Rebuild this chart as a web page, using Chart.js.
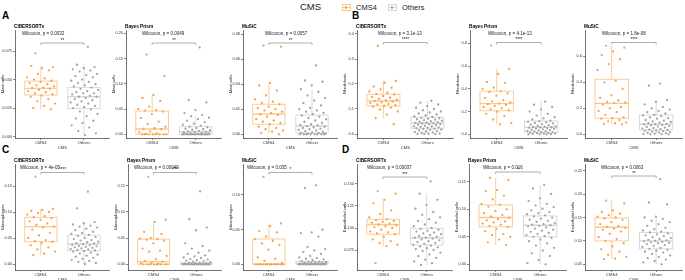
<!DOCTYPE html>
<html>
<head>
<meta charset="utf-8">
<script src="https://cdn.jsdelivr.net/npm/chart.js@4"></script>
<style>
body { margin: 0; background: #fff; }
#wrap { position: relative; width: 685px; height: 280px; overflow: hidden; font-family: 'Liberation Sans', Arial, sans-serif; }
canvas { position: absolute; }
.tag { position: absolute; font-weight: bold; font-size: 10px; line-height: 10px; color: #000; }
.lg { position: absolute; line-height: 10px; color: #222; white-space: nowrap; }
.key { position: absolute; top: 2px; width: 10px; height: 10px; }
.key .bx { position: absolute; left: 1px; top: 2px; width: 7px; height: 5px; border: 0.8px solid; }
.key .md { position: absolute; left: 1px; top: 5px; width: 8.6px; height: 0.9px; }
.key .dot { position: absolute; left: 4px; top: 4.2px; width: 2.4px; height: 2.4px; border-radius: 1.2px; }
</style>
</head>
<body>
<div id="wrap">
  <div class="tag" style="left:2px;top:11px">A</div>
  <div class="tag" style="left:352px;top:11px">B</div>
  <div class="tag" style="left:2px;top:145px">C</div>
  <div class="tag" style="left:342px;top:145px">D</div>
  <span class="lg" style="left:300px;top:2px;font-size:9.5px">CMS</span>
  <span class="key" style="left:341px"><span class="bx" style="border-color:#fbc78c"></span><span class="md" style="background:#fbc78c"></span><span class="dot" style="background:#f8a145"></span></span>
  <span class="lg" style="left:356px;top:2.5px;font-size:7.5px">CMS4</span>
  <span class="key" style="left:387px"><span class="bx" style="border-color:#d6d6d6"></span><span class="md" style="background:#d6d6d6"></span><span class="dot" style="background:#a3a3a3"></span></span>
  <span class="lg" style="left:402px;top:2.5px;font-size:7.5px">Others</span>
</div>
<script>
const categories = ['CMS4', 'Others'];

// A: mast cells
const mastCiberCMS4 = [0.073, 0.061, 0.060, 0.062, 0.058, 0.055, 0.052, 0.051, 0.050, 0.049, 0.048, 0.047, 0.046, 0.045, 0.044, 0.043, 0.0425, 0.042, 0.041, 0.040, 0.039, 0.038, 0.037, 0.036, 0.035, 0.033, 0.031, 0.029, 0.027, 0.025, 0.024];
const mastCiberOthers = [0.0787, 0.063, 0.061, 0.060, 0.059, 0.058, 0.057, 0.055, 0.054, 0.053, 0.052, 0.050, 0.049, 0.048, 0.047, 0.046, 0.045, 0.044, 0.043, 0.042, 0.041, 0.040, 0.039, 0.038, 0.038, 0.037, 0.036, 0.035, 0.035, 0.034, 0.033, 0.032, 0.031, 0.030, 0.029, 0.028, 0.027, 0.026, 0.025, 0.024, 0.022, 0.020, 0.018, 0.016, 0.014, 0.012, 0.010, 0.008, 0.005, 0.003, 0.0015];
const mastCiberBox = [[0.024, 0.0365, 0.0423, 0.0487, 0.062], [0.0015, 0.0248, 0.035, 0.0432, 0.0633]];
const mastCiberTicks = ['0.000', '0.025', '0.050', '0.075'];

const mastBayesCMS4 = [0.158, 0.115, 0.078, 0.072, 0.066, 0.055, 0.050, 0.048, 0.047, 0.045, 0.040, 0.032, 0.025, 0.020, 0.015, 0.012, 0.011, 0.010, 0.006, 0.004, 0.002, 0.001, 0, 0, 0, 0, 0, 0, 0, 0];
const mastBayesOthers = [0.172, 0.068, 0.063, 0.048, 0.042, 0.038, 0.036, 0.033, 0.030, 0.027, 0.024, 0.021, 0.019, 0.017, 0.015, 0.014, 0.012, 0.011, 0.010, 0.009, 0.008, 0.007, 0.006, 0.005, 0.005, 0.004, 0.003, 0.002, 0.002, 0.001, 0.001, 0, 0, 0, 0, 0, 0, 0, 0, 0, 0, 0, 0, 0, 0, 0, 0, 0, 0, 0];
const mastBayesBox = [[0, 0, 0.0105, 0.046, 0.078], [0, 0, 0.005, 0.015, 0.036]];
const mastBayesTicks = ['0.00', '0.05', '0.10', '0.15', '0.20'];

const mastMusicCMS4 = [0.071, 0.070, 0.041, 0.039, 0.035, 0.031, 0.028, 0.026, 0.025, 0.024, 0.022, 0.021, 0.020, 0.019, 0.018, 0.017, 0.016, 0.0155, 0.014, 0.012, 0.011, 0.010, 0.009, 0.008, 0.006, 0.005, 0.004, 0.003, 0.002, 0.001, 0];
const mastMusicOthers = [0.055, 0.043, 0.042, 0.039, 0.036, 0.034, 0.031, 0.029, 0.027, 0.025, 0.023, 0.021, 0.020, 0.019, 0.018, 0.017, 0.016, 0.015, 0.014, 0.013, 0.012, 0.011, 0.010, 0.009, 0.008, 0.0075, 0.007, 0.0065, 0.006, 0.0055, 0.005, 0.0045, 0.004, 0.0035, 0.003, 0.0025, 0.002, 0.0015, 0.001, 0.001, 0.0005, 0.0005, 0, 0, 0, 0, 0, 0, 0, 0];
const mastMusicBox = [[0, 0.008, 0.0162, 0.024, 0.041], [0, 0.001, 0.0066, 0.0154, 0.036]];
const mastMusicTicks = ['0.00', '0.02', '0.04', '0.06', '0.08'];

// B: fibroblasts
const fibroCiberCMS4 = [0.352, 0.212, 0.205, 0.19, 0.185, 0.178, 0.17, 0.165, 0.16, 0.158, 0.152, 0.148, 0.145, 0.14, 0.137, 0.134, 0.132, 0.13, 0.127, 0.124, 0.12, 0.118, 0.115, 0.113, 0.11, 0.105, 0.098, 0.09, 0.078, 0.063, 0.039];
const fibroCiberOthers = [0.133, 0.125, 0.118, 0.112, 0.105, 0.1, 0.095, 0.09, 0.086, 0.082, 0.078, 0.074, 0.07, 0.068, 0.065, 0.063, 0.061, 0.059, 0.057, 0.055, 0.053, 0.051, 0.049, 0.047, 0.046, 0.044, 0.043, 0.042, 0.04, 0.039, 0.037, 0.035, 0.033, 0.031, 0.03, 0.028, 0.026, 0.025, 0.023, 0.021, 0.02, 0.018, 0.016, 0.014, 0.012, 0.01, 0.008, 0.006, 0.004, 0.002, 0.001, 0, 0, 0];
const fibroCiberBox = [[0.063, 0.112, 0.132, 0.159, 0.212], [0, 0.023, 0.043, 0.067, 0.133]];
const fibroCiberTicks = ['0.0', '0.1', '0.2', '0.3', '0.4'];

const fibroBayesCMS4 = [0.78, 0.574, 0.53, 0.46, 0.453, 0.41, 0.40, 0.38, 0.37, 0.36, 0.34, 0.32, 0.30, 0.29, 0.28, 0.27, 0.265, 0.26, 0.25, 0.24, 0.23, 0.22, 0.21, 0.20, 0.18, 0.16, 0.13, 0.10, 0.088];
const fibroBayesOthers = [0.287, 0.26, 0.24, 0.22, 0.2, 0.18, 0.165, 0.15, 0.14, 0.13, 0.12, 0.115, 0.11, 0.105, 0.1, 0.095, 0.09, 0.085, 0.08, 0.075, 0.07, 0.067, 0.064, 0.062, 0.06, 0.057, 0.054, 0.05, 0.047, 0.044, 0.04, 0.037, 0.034, 0.03, 0.027, 0.024, 0.02, 0.018, 0.015, 0.012, 0.01, 0.008, 0.005, 0.003, 0.001, 0, 0, 0];
const fibroBayesBox = [[0.088, 0.207, 0.27, 0.38, 0.574], [0, 0.018, 0.062, 0.117, 0.287]];
const fibroBayesTicks = ['0.0', '0.2', '0.4', '0.6', '0.8'];

const fibroMusicCMS4 = [0.68, 0.666, 0.636, 0.61, 0.577, 0.54, 0.495, 0.412, 0.40, 0.35, 0.30, 0.28, 0.26, 0.25, 0.245, 0.24, 0.23, 0.21, 0.20, 0.18, 0.17, 0.15, 0.13, 0.125, 0.12, 0.11, 0.10, 0.09, 0.085, 0.08, 0.077];
const fibroMusicOthers = [0.39, 0.374, 0.264, 0.25, 0.23, 0.21, 0.2, 0.19, 0.18, 0.17, 0.16, 0.15, 0.145, 0.14, 0.13, 0.125, 0.12, 0.11, 0.105, 0.1, 0.095, 0.09, 0.085, 0.08, 0.078, 0.076, 0.072, 0.068, 0.064, 0.06, 0.056, 0.052, 0.048, 0.044, 0.04, 0.036, 0.033, 0.03, 0.027, 0.024, 0.02, 0.017, 0.014, 0.011, 0.008, 0.005, 0.003, 0.001, 0, 0];
const fibroMusicBox = [[0.077, 0.123, 0.238, 0.423, 0.68], [0, 0.033, 0.077, 0.148, 0.264]];
const fibroMusicTicks = ['0.0', '0.2', '0.4', '0.6'];

// C: macrophages
const macroCiberCMS4 = [0.168, 0.106, 0.104, 0.102, 0.1, 0.098, 0.095, 0.092, 0.09, 0.088, 0.085, 0.082, 0.078, 0.075, 0.072, 0.07, 0.066, 0.06, 0.055, 0.05, 0.046, 0.044, 0.043, 0.04, 0.036, 0.032, 0.028, 0.024, 0.02, 0.017];
const macroCiberOthers = [0.139, 0.107, 0.081, 0.078, 0.076, 0.074, 0.072, 0.07, 0.068, 0.065, 0.062, 0.06, 0.058, 0.056, 0.054, 0.052, 0.05, 0.048, 0.046, 0.045, 0.043, 0.042, 0.04, 0.039, 0.038, 0.037, 0.036, 0.035, 0.034, 0.033, 0.032, 0.031, 0.03, 0.029, 0.028, 0.027, 0.026, 0.025, 0.024, 0.022, 0.02, 0.018, 0.016, 0.014, 0.012, 0.01, 0.008, 0.006, 0.004, 0.002, 0];
const macroCiberBox = [[0.017, 0.043, 0.0718, 0.0898, 0.106], [0, 0.0256, 0.0385, 0.0558, 0.081]];
const macroCiberTicks = ['0.00', '0.05', '0.10', '0.15'];

const macroBayesCMS4 = [0.167, 0.085, 0.081, 0.062, 0.058, 0.05, 0.049, 0.048, 0.047, 0.045, 0.04, 0.03, 0.026, 0.024, 0.016, 0.01, 0.006, 0.005, 0.003, 0.002, 0.001, 0, 0, 0, 0, 0, 0, 0, 0];
const macroBayesOthers = [0.139, 0.086, 0.07, 0.065, 0.04, 0.035, 0.03, 0.026, 0.022, 0.02, 0.017, 0.015, 0.013, 0.012, 0.01, 0.009, 0.008, 0.007, 0.006, 0.005, 0.004, 0.003, 0.003, 0.002, 0.002, 0.001, 0.001, 0.001, 0, 0, 0, 0, 0, 0, 0, 0, 0, 0, 0, 0, 0, 0, 0, 0, 0, 0, 0, 0, 0, 0];
const macroBayesBox = [[0, 0, 0.005, 0.048, 0.081], [0, 0, 0.001, 0.003, 0.007]];
const macroBayesTicks = ['0.00', '0.05', '0.10', '0.15'];

const macroMusicCMS4 = [0.126, 0.059, 0.055, 0.048, 0.046, 0.04, 0.036, 0.034, 0.03, 0.028, 0.021, 0.01, 0.008, 0.005, 0.002, 0, 0, 0, 0, 0, 0, 0, 0, 0, 0, 0, 0, 0];
const macroMusicOthers = [0.114, 0.11, 0.05, 0.046, 0.045, 0.04, 0.025, 0.022, 0.02, 0.018, 0.015, 0.012, 0.01, 0.009, 0.008, 0.007, 0.006, 0.005, 0.004, 0.004, 0.003, 0.003, 0.002, 0.002, 0.002, 0.001, 0.001, 0.001, 0.001, 0.0005, 0.0005, 0, 0, 0, 0, 0, 0, 0, 0, 0, 0, 0, 0, 0, 0, 0, 0, 0, 0, 0];
const macroMusicBox = [[0, 0, 0, 0.0365, 0.059], [0, 0, 0.0015, 0.004, 0.01]];
const macroMusicTicks = ['0.00', '0.05', '0.10'];

// D: endothelial cells
const endoCiberCMS4 = [0.142, 0.139, 0.132, 0.128, 0.12, 0.116, 0.112, 0.11, 0.109, 0.108, 0.107, 0.106, 0.105, 0.104, 0.103, 0.102, 0.101, 0.1, 0.098, 0.096, 0.095, 0.094, 0.093, 0.09, 0.087, 0.085, 0.083, 0.081, 0.0795, 0.06];
const endoCiberOthers = [0.153, 0.139, 0.132, 0.126, 0.122, 0.118, 0.115, 0.112, 0.11, 0.108, 0.106, 0.104, 0.102, 0.1, 0.099, 0.098, 0.097, 0.096, 0.095, 0.094, 0.093, 0.092, 0.091, 0.09, 0.089, 0.089, 0.088, 0.087, 0.086, 0.085, 0.084, 0.083, 0.082, 0.081, 0.08, 0.079, 0.078, 0.077, 0.076, 0.075, 0.074, 0.072, 0.07, 0.068, 0.066, 0.064, 0.062, 0.06, 0.058];
const endoCiberBox = [[0.0795, 0.093, 0.104, 0.1099, 0.132], [0.058, 0.0807, 0.089, 0.0997, 0.139]];
const endoCiberTicks = ['0.075', '0.100', '0.125', '0.150'];

const endoBayesCMS4 = [0.157, 0.153, 0.135, 0.133, 0.125, 0.118, 0.11, 0.108, 0.105, 0.1, 0.097, 0.093, 0.09, 0.087, 0.085, 0.082, 0.08, 0.078, 0.076, 0.074, 0.072, 0.07, 0.068, 0.064, 0.06, 0.055, 0.053, 0.05, 0.045, 0.04, 0.035];
const endoBayesOthers = [0.144, 0.138, 0.128, 0.12, 0.115, 0.11, 0.107, 0.104, 0.101, 0.098, 0.095, 0.093, 0.091, 0.089, 0.087, 0.085, 0.083, 0.081, 0.079, 0.077, 0.075, 0.073, 0.072, 0.071, 0.07, 0.069, 0.067, 0.065, 0.063, 0.061, 0.059, 0.057, 0.055, 0.053, 0.051, 0.05, 0.048, 0.045, 0.042, 0.038, 0.034, 0.03, 0.025, 0.02, 0.015, 0.008, 0.002, 0];
const endoBayesBox = [[0.035, 0.068, 0.085, 0.108, 0.157], [0, 0.05, 0.071, 0.088, 0.144]];
const endoBayesTicks = ['0.00', '0.05', '0.10', '0.15'];

const endoMusicCMS4 = [0.186, 0.18, 0.165, 0.162, 0.158, 0.155, 0.152, 0.15, 0.148, 0.145, 0.14, 0.136, 0.132, 0.13, 0.128, 0.126, 0.124, 0.12, 0.115, 0.108, 0.104, 0.1, 0.095, 0.088, 0.082, 0.077, 0.07, 0.066, 0.062, 0.061];
const endoMusicOthers = [0.232, 0.182, 0.178, 0.152, 0.15, 0.147, 0.143, 0.14, 0.136, 0.132, 0.128, 0.125, 0.122, 0.12, 0.118, 0.116, 0.114, 0.112, 0.11, 0.108, 0.106, 0.104, 0.102, 0.101, 0.1, 0.099, 0.098, 0.097, 0.096, 0.095, 0.093, 0.091, 0.089, 0.087, 0.085, 0.083, 0.081, 0.079, 0.077, 0.075, 0.072, 0.069, 0.066, 0.063, 0.06, 0.057, 0.054, 0.05];
const endoMusicBox = [[0.061, 0.1, 0.129, 0.149, 0.186], [0.05, 0.083, 0.1, 0.118, 0.152]];
const endoMusicTicks = ['0.05', '0.10', '0.15', '0.20', '0.25'];

const panels = [
  { method: 'CIBERSORTx', cell: 'Mast cells', p: 'Wilcoxon, p = 0.0032', stars: '**', cms4: mastCiberCMS4, others: mastCiberOthers, box: mastCiberBox, ticks: mastCiberTicks, min: -0.0011, max: 0.0934, L: 15, R: 110, row: 0, dx: 7, by: 13 },
  { method: 'Bayes Prism', cell: 'Mast cells', p: 'Wilcoxon, p = 0.0049', stars: '**', cms4: mastBayesCMS4, others: mastBayesOthers, box: mastBayesBox, ticks: mastBayesTicks, min: -0.0073, max: 0.2065, L: 126, R: 222, row: 0, dx: 16, by: 13 },
  { method: 'MuSiC', cell: 'Mast cells', p: 'Wilcoxon, p = 0.0057', stars: '**', cms4: mastMusicCMS4, others: mastMusicOthers, box: mastMusicBox, ticks: mastMusicTicks, min: -0.003, max: 0.0834, L: 243, R: 338, row: 0, dx: 22, by: 13 },
  { method: 'CIBERSORTx', cell: 'Fibroblasts', p: 'Wilcoxon, p = 3.1e-13', stars: '****', cms4: fibroCiberCMS4, others: fibroCiberOthers, box: fibroCiberBox, ticks: fibroCiberTicks, min: -0.016, max: 0.416, L: 357, R: 454, row: 0, dx: 21, by: 12.5 },
  { method: 'Bayes Prism', cell: 'Fibroblasts', p: 'Wilcoxon, p = 4.1e-13', stars: '****', cms4: fibroBayesCMS4, others: fibroBayesOthers, box: fibroBayesBox, ticks: fibroBayesTicks, min: -0.0325, max: 0.917, L: 470, R: 568, row: 0, dx: 18, by: 12.5 },
  { method: 'MuSiC', cell: 'Fibroblasts', p: 'Wilcoxon, p = 1.8e-08', stars: '****', cms4: fibroMusicCMS4, others: fibroMusicOthers, box: fibroMusicBox, ticks: fibroMusicTicks, min: -0.0285, max: 0.802, L: 585, R: 683, row: 0, dx: 17, by: 12.5 },
  { method: 'CIBERSORTx', cell: 'Macrophages', p: 'Wilcoxon, p = 4e-05', stars: '****', cms4: macroCiberCMS4, others: macroCiberOthers, box: macroCiberBox, ticks: macroCiberTicks, min: -0.0115, max: 0.1923, L: 15, R: 110, row: 1, dx: 5, by: 8.5 },
  { method: 'Bayes Prism', cell: 'Macrophages', p: 'Wilcoxon, p = 0.00049', stars: '***', cms4: macroBayesCMS4, others: macroBayesOthers, box: macroBayesBox, ticks: macroBayesTicks, min: -0.0109, max: 0.1914, L: 128, R: 222, row: 1, dx: 6, by: 8.5 },
  { method: 'MuSiC', cell: 'Macrophages', p: 'Wilcoxon, p = 0.035', stars: '*', cms4: macroMusicCMS4, others: macroMusicOthers, box: macroMusicBox, ticks: macroMusicTicks, min: -0.0082, max: 0.1447, L: 243, R: 338, row: 1, dx: 4, by: 8.5 },
  { method: 'CIBERSORTx', cell: 'Endothelial cells', p: 'Wilcoxon, p = 0.00037', stars: '***', cms4: endoCiberCMS4, others: endoCiberOthers, box: endoCiberBox, ticks: endoCiberTicks, min: 0.0523, max: 0.1727, L: 357, R: 453, row: 1, dx: 10, by: 13 },
  { method: 'Bayes Prism', cell: 'Endothelial cells', p: 'Wilcoxon, p = 0.016', stars: '*', cms4: endoBayesCMS4, others: endoBayesOthers, box: endoBayesBox, ticks: endoBayesTicks, min: -0.0104, max: 0.1824, L: 469, R: 567, row: 1, dx: 14, by: 8 },
  { method: 'MuSiC', cell: 'Endothelial cells', p: 'Wilcoxon, p = 0.0063', stars: '**', cms4: endoMusicCMS4, others: endoMusicOthers, box: endoMusicBox, ticks: endoMusicTicks, min: 0.0378, max: 0.2643, L: 585, R: 683, row: 1, dx: 16, by: 12 }
];

const FONT = "'Liberation Sans', Arial, sans-serif";
const POINT = ['#f8a145', '#a3a3a3'];
const LINE = ['#fbc78c', '#d6d6d6'];
const ROWS = [{ top: 30, bottom: 138 }, { top: 164, bottom: 270 }];
const YW = 15, PT = 12, XH = 14;

Chart.defaults.font.family = FONT;

// spread points sideways around each category
function jitter(i) {
  return (((i * 0.6180339887 + 0.31) % 1) - 0.5) * 0.66;
}

const wrap = document.getElementById('wrap');

panels.forEach(p => {
  const row = ROWS[p.row];
  const w = p.R - p.L + YW + 1;
  const h = row.bottom - row.top + PT + XH;
  const cv = document.createElement('canvas');
  cv.width = w; cv.height = h;
  cv.style.left = (p.L - YW) + 'px';
  cv.style.top = (row.top - PT) + 'px';
  cv.style.width = w + 'px';
  cv.style.height = h + 'px';
  wrap.appendChild(cv);

  const boxes = {
    id: 'boxes',
    beforeDatasetsDraw(chart) {
      const { ctx, scales: { x, y } } = chart;
      p.box.forEach((b, i) => {
        const c = i + 1;
        const x0 = x.getPixelForValue(c - 0.375), x1 = x.getPixelForValue(c + 0.375), xc = x.getPixelForValue(c);
        const [lo, q1, med, q3, hi] = b.map(v => y.getPixelForValue(v));
        ctx.save();
        ctx.strokeStyle = LINE[i];
        ctx.lineWidth = 0.9;
        ctx.beginPath();
        ctx.moveTo(xc, q3); ctx.lineTo(xc, hi);
        ctx.moveTo(xc, q1); ctx.lineTo(xc, lo);
        ctx.stroke();
        ctx.strokeRect(x0, q3, x1 - x0, q1 - q3);
        ctx.lineWidth = 1.4;
        ctx.beginPath();
        ctx.moveTo(x0, med); ctx.lineTo(x1, med);
        ctx.stroke();
        ctx.restore();
      });
    },
    afterDraw(chart) {
      const { ctx, chartArea: a, scales: { x } } = chart;
      ctx.save();
      ctx.textBaseline = 'middle';
      ctx.fillStyle = '#000';
      ctx.font = 'bold 4.7px ' + FONT;
      ctx.fillText(p.method, a.left - 1, a.top - 3.5);
      ctx.fillStyle = '#222';
      ctx.font = '4.5px ' + FONT;
      ctx.fillText(p.p, a.left + p.dx, a.top + 3.5);
      const by = a.top + p.by, bx0 = x.getPixelForValue(1), bx1 = x.getPixelForValue(2);
      ctx.strokeStyle = '#9a9a9a';
      ctx.lineWidth = 0.8;
      ctx.beginPath();
      ctx.moveTo(bx0, by + 2); ctx.lineTo(bx0, by); ctx.lineTo(bx1, by); ctx.lineTo(bx1, by + 2);
      ctx.stroke();
      ctx.textAlign = 'center';
      ctx.textBaseline = 'bottom';
      ctx.font = '4.5px ' + FONT;
      ctx.fillText(p.stars, (bx0 + bx1) / 2, by - 0.3);
      ctx.restore();
    }
  };

  new Chart(cv, {
    type: 'scatter',
    data: {
      datasets: [p.cms4, p.others].map((vals, g) => ({
        data: vals.map((v, i) => ({ x: g + 1 + jitter(i + g * 7), y: v })),
        backgroundColor: POINT[g],
        pointRadius: 1.15,
        pointHoverRadius: 1.15,
        pointBorderWidth: 0
      }))
    },
    options: {
      responsive: false,
      animation: false,
      devicePixelRatio: 1,
      events: [],
      layout: { padding: { top: PT, right: 1, left: 0, bottom: 0 } },
      plugins: { legend: { display: false }, tooltip: { enabled: false } },
      scales: {
        x: {
          type: 'linear',
          min: 0.4,
          max: 2.6,
          afterBuildTicks: s => { s.ticks = [{ value: 1 }, { value: 2 }]; },
          afterFit: s => { s.height = XH; },
          ticks: { callback: v => categories[v - 1], font: { size: 4.2 }, color: '#333', padding: 0.5, maxRotation: 0, autoSkip: false },
          grid: { drawOnChartArea: false, tickLength: 2, color: '#333', lineWidth: 0.6 },
          border: { color: '#333', width: 0.7 },
          title: { display: true, text: 'CMS', font: { size: 4.2 }, color: '#333', padding: { top: 0, bottom: 2 } }
        },
        y: {
          min: p.min,
          max: p.max,
          afterBuildTicks: s => { s.ticks = p.ticks.map(t => ({ value: parseFloat(t) })); },
          afterFit: s => { s.width = YW; },
          ticks: { callback: (v, i) => p.ticks[i], font: { size: 3.9 }, color: '#333', padding: 1, autoSkip: false },
          grid: { drawOnChartArea: false, tickLength: 2, color: '#333', lineWidth: 0.6 },
          border: { color: '#333', width: 0.7 },
          title: { display: true, text: p.cell, font: { size: 4.2 }, color: '#222', padding: 0 }
        }
      }
    },
    plugins: [boxes]
  });
});
</script>
</body>
</html>
